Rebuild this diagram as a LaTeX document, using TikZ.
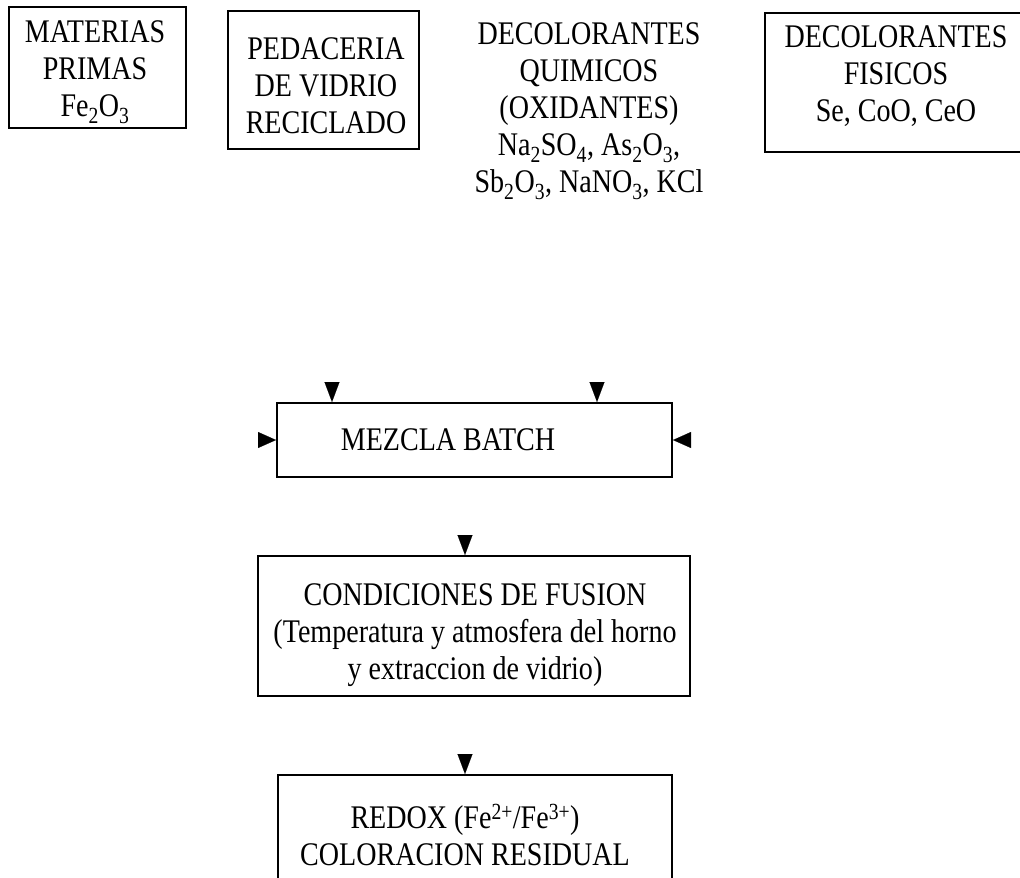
\documentclass[tikz,border=0pt]{standalone}
\usepackage{fontspec}
\setmainfont{Liberation Serif}[FakeStretch=0.85]
\usetikzlibrary{arrows.meta}
\tikzset{
  box/.style={draw, line width=2pt, rectangle, inner sep=0pt},
  lbl/.style={align=center, inner sep=0pt, font=\fontsize{33}{37}\selectfont},
  tipv/.style={-{Triangle[width=15pt,length=20pt]}, line width=0.1pt},
  tiph/.style={-{Triangle[width=16pt,length=18pt]}, line width=0.1pt}
}
\begin{document}
\begin{tikzpicture}[x=1pt,y=-1pt]
\useasboundingbox (0,0) rectangle (1020,878);
% boxes
\node[box, minimum width=177pt, minimum height=121pt] (b1) at (97.5,67.5) {};
\node[box, minimum width=191pt, minimum height=138pt] (b2) at (323.5,80) {};
\node[box, minimum width=262pt, minimum height=139pt] (b4) at (896,82.5) {};
\node[box, minimum width=395pt, minimum height=74pt] (mz) at (474.5,440) {};
\node[box, minimum width=432pt, minimum height=140pt] (cf) at (474,626) {};
\node[box, minimum width=394pt, minimum height=125pt] (rd) at (475,837.5) {};
% texts
\node[lbl] (t1) at (95,72) {MATERIAS\\PRIMAS\\Fe\textsubscript{2}O\textsubscript{3}};
\node[lbl] (t2) at (326,86) {PEDACERIA\\DE VIDRIO\\RECICLADO};
\node[lbl] (t3) at (589,111) {DECOLORANTES\\QUIMICOS\\(OXIDANTES)\\Na\textsubscript{2}SO\textsubscript{4}, As\textsubscript{2}O\textsubscript{3},\\Sb\textsubscript{2}O\textsubscript{3}, NaNO\textsubscript{3}, KCl};
\node[lbl] (t4) at (896,76) {DECOLORANTES\\FISICOS\\Se, CoO, CeO};
\node[lbl] (t5) at (448,440) {MEZCLA BATCH};
\node[lbl] (t6) at (475,635) {CONDICIONES DE FUSION\\(Temperatura y atmosfera del horno\\y extraccion de vidrio)};
\node[lbl] (t7) at (465,835) {REDOX (Fe\textsuperscript{2+}/Fe\textsuperscript{3+})\\COLORACION RESIDUAL};
% arrowheads
\coordinate (a1) at (332,383);
\coordinate (a2) at (597,383);
\coordinate (a3) at (259,440);
\coordinate (a4) at (690,440);
\coordinate (a5) at (465,536);
\coordinate (a6) at (465,755);
\draw[tipv] (a1) -- (a1 |- mz.north);
\draw[tipv] (a2) -- (a2 |- mz.north);
\draw[tiph] (a3) -- (a3 -| mz.west);
\draw[tiph] (a4) -- (a4 -| mz.east);
\draw[tipv] (a5) -- (a5 |- cf.north);
\draw[tipv] (a6) -- (a6 |- rd.north);
\end{tikzpicture}
\end{document}
